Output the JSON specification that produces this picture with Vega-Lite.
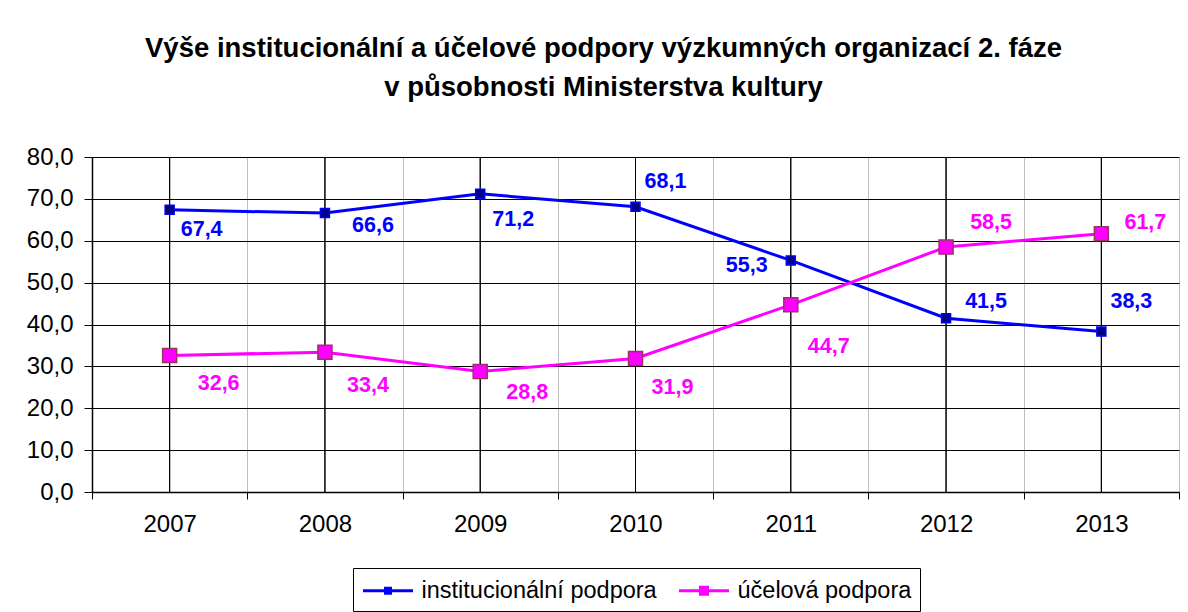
{
  "$schema": "https://vega.github.io/schema/vega-lite/v6.json",
  "autosize": "none",
  "width": 1087,
  "height": 335,
  "padding": {"left": 92, "top": 157, "right": 9, "bottom": 120},
  "background": "white",
  "config": {
    "locale": {"number": {"decimal": ",", "thousands": " ", "grouping": [3], "currency": ["", " Kč"]}},
    "font": "Liberation Sans",
    "view": {"stroke": null},
    "axis": {"labelFont": "Liberation Sans", "labelColor": "black", "labelFontSize": 24, "domainColor": "black", "tickColor": "black", "gridColor": "black", "gridOpacity": 1, "domainWidth": 1.5},
    "legend": {"labelFont": "Liberation Sans", "labelColor": "black", "labelFontSize": 23.5, "labelLimit": 0}
  },
  "title": {
    "text": ["Výše institucionální a účelové podpory výzkumných organizací 2. fáze", "v působnosti Ministerstva kultury"],
    "font": "Liberation Sans",
    "fontSize": 27.5,
    "fontWeight": "bold",
    "color": "black",
    "anchor": "middle",
    "dx": -32,
    "lineHeight": 39,
    "offset": 44
  },
  "data": {
    "values": [
      {"year": "2007", "series": "institucionální podpora", "value": 67.4},
      {"year": "2008", "series": "institucionální podpora", "value": 66.6},
      {"year": "2009", "series": "institucionální podpora", "value": 71.2},
      {"year": "2010", "series": "institucionální podpora", "value": 68.1},
      {"year": "2011", "series": "institucionální podpora", "value": 55.3},
      {"year": "2012", "series": "institucionální podpora", "value": 41.5},
      {"year": "2013", "series": "institucionální podpora", "value": 38.3},
      {"year": "2007", "series": "účelová podpora", "value": 32.6},
      {"year": "2008", "series": "účelová podpora", "value": 33.4},
      {"year": "2009", "series": "účelová podpora", "value": 28.8},
      {"year": "2010", "series": "účelová podpora", "value": 31.9},
      {"year": "2011", "series": "účelová podpora", "value": 44.7},
      {"year": "2012", "series": "účelová podpora", "value": 58.5},
      {"year": "2013", "series": "účelová podpora", "value": 61.7}
    ]
  },
  "encoding": {
    "x": {
      "field": "year",
      "type": "ordinal",
      "scale": {"type": "band", "paddingInner": 0, "paddingOuter": 0},
      "axis": {"title": null, "labelAngle": 0, "tickBand": "extent", "grid": true, "gridColor": "#c0c0c0", "tickSize": 7, "labelPadding": 13}
    },
    "y": {
      "field": "value",
      "type": "quantitative",
      "scale": {"domain": [0, 80], "nice": false},
      "axis": {"title": null, "values": [0, 10, 20, 30, 40, 50, 60, 70, 80], "format": ".1f", "grid": true, "tickSize": 8, "labelPadding": 11}
    }
  },
  "layer": [
    {
      "mark": {"type": "rule", "color": "black", "strokeWidth": 1},
      "encoding": {"y": null}
    },
    {
      "mark": {"type": "line", "strokeWidth": 3},
      "encoding": {
        "color": {
          "field": "series",
          "type": "nominal",
          "scale": {"domain": ["institucionální podpora", "účelová podpora"], "range": ["#0000FF", "#FF00FF"]},
          "legend": {
            "title": null,
            "orient": "none",
            "direction": "horizontal",
            "legendX": 261,
            "legendY": 411,
            "strokeColor": "black",
            "fillColor": "white",
            "padding": 8.5,
            "columnPadding": 15,
            "labelOffset": 32,
            "symbolSize": 625,
            "symbolStrokeWidth": 3,
            "symbolType": "M-1,0H3M0.8,-0.2H1.2V0.2H0.8Z",
            "encode": {
              "symbols": {
                "update": {
                  "shape": {"signal": "datum.value === 'účelová podpora' ? 'M-1,0H3M0.72,-0.28H1.28V0.28H0.72Z' : 'M-1,0H3M0.8,-0.2H1.2V0.2H0.8Z'"},
                  "fill": {"signal": "datum.value === 'účelová podpora' ? '#FF00FF' : '#000080'"},
                  "fillOpacity": {"value": 1}
                }
              }
            }
          }
        }
      }
    },
    {
      "transform": [{"filter": "datum.series === 'institucionální podpora'"}],
      "mark": {"type": "point", "shape": "square", "size": 81, "filled": true, "fill": "#000080", "stroke": "#0000FF", "strokeWidth": 1.5, "opacity": 1}
    },
    {
      "transform": [{"filter": "datum.series === 'účelová podpora'"}],
      "mark": {"type": "point", "shape": "square", "size": 196, "filled": true, "fill": "#FF00FF", "stroke": "#993366", "strokeWidth": 1.5, "opacity": 1}
    },
    {"transform": [{"filter": "datum.series === 'institucionální podpora' && datum.year === '2007'"}], "mark": {"type": "text", "fontSize": 21.5, "fontWeight": "bold", "color": "#0000FF", "dx": 32, "dy": 20}, "encoding": {"text": {"field": "value", "type": "quantitative", "format": ".1f"}}},
    {"transform": [{"filter": "datum.series === 'institucionální podpora' && datum.year === '2008'"}], "mark": {"type": "text", "fontSize": 21.5, "fontWeight": "bold", "color": "#0000FF", "dx": 48, "dy": 13}, "encoding": {"text": {"field": "value", "type": "quantitative", "format": ".1f"}}},
    {"transform": [{"filter": "datum.series === 'institucionální podpora' && datum.year === '2009'"}], "mark": {"type": "text", "fontSize": 21.5, "fontWeight": "bold", "color": "#0000FF", "dx": 33, "dy": 26}, "encoding": {"text": {"field": "value", "type": "quantitative", "format": ".1f"}}},
    {"transform": [{"filter": "datum.series === 'institucionální podpora' && datum.year === '2010'"}], "mark": {"type": "text", "fontSize": 21.5, "fontWeight": "bold", "color": "#0000FF", "dx": 30, "dy": -25}, "encoding": {"text": {"field": "value", "type": "quantitative", "format": ".1f"}}},
    {"transform": [{"filter": "datum.series === 'institucionální podpora' && datum.year === '2011'"}], "mark": {"type": "text", "fontSize": 21.5, "fontWeight": "bold", "color": "#0000FF", "dx": -44, "dy": 6}, "encoding": {"text": {"field": "value", "type": "quantitative", "format": ".1f"}}},
    {"transform": [{"filter": "datum.series === 'institucionální podpora' && datum.year === '2012'"}], "mark": {"type": "text", "fontSize": 21.5, "fontWeight": "bold", "color": "#0000FF", "dx": 40, "dy": -16}, "encoding": {"text": {"field": "value", "type": "quantitative", "format": ".1f"}}},
    {"transform": [{"filter": "datum.series === 'institucionální podpora' && datum.year === '2013'"}], "mark": {"type": "text", "fontSize": 21.5, "fontWeight": "bold", "color": "#0000FF", "dx": 30, "dy": -30}, "encoding": {"text": {"field": "value", "type": "quantitative", "format": ".1f"}}},
    {"transform": [{"filter": "datum.series === 'účelová podpora' && datum.year === '2007'"}], "mark": {"type": "text", "fontSize": 21.5, "fontWeight": "bold", "color": "#FF00FF", "dx": 49, "dy": 29}, "encoding": {"text": {"field": "value", "type": "quantitative", "format": ".1f"}}},
    {"transform": [{"filter": "datum.series === 'účelová podpora' && datum.year === '2008'"}], "mark": {"type": "text", "fontSize": 21.5, "fontWeight": "bold", "color": "#FF00FF", "dx": 43, "dy": 34}, "encoding": {"text": {"field": "value", "type": "quantitative", "format": ".1f"}}},
    {"transform": [{"filter": "datum.series === 'účelová podpora' && datum.year === '2009'"}], "mark": {"type": "text", "fontSize": 21.5, "fontWeight": "bold", "color": "#FF00FF", "dx": 47, "dy": 22}, "encoding": {"text": {"field": "value", "type": "quantitative", "format": ".1f"}}},
    {"transform": [{"filter": "datum.series === 'účelová podpora' && datum.year === '2010'"}], "mark": {"type": "text", "fontSize": 21.5, "fontWeight": "bold", "color": "#FF00FF", "dx": 37, "dy": 30}, "encoding": {"text": {"field": "value", "type": "quantitative", "format": ".1f"}}},
    {"transform": [{"filter": "datum.series === 'účelová podpora' && datum.year === '2011'"}], "mark": {"type": "text", "fontSize": 21.5, "fontWeight": "bold", "color": "#FF00FF", "dx": 38, "dy": 42}, "encoding": {"text": {"field": "value", "type": "quantitative", "format": ".1f"}}},
    {"transform": [{"filter": "datum.series === 'účelová podpora' && datum.year === '2012'"}], "mark": {"type": "text", "fontSize": 21.5, "fontWeight": "bold", "color": "#FF00FF", "dx": 45, "dy": -24}, "encoding": {"text": {"field": "value", "type": "quantitative", "format": ".1f"}}},
    {"transform": [{"filter": "datum.series === 'účelová podpora' && datum.year === '2013'"}], "mark": {"type": "text", "fontSize": 21.5, "fontWeight": "bold", "color": "#FF00FF", "dx": 44, "dy": -11}, "encoding": {"text": {"field": "value", "type": "quantitative", "format": ".1f"}}}
  ]
}
